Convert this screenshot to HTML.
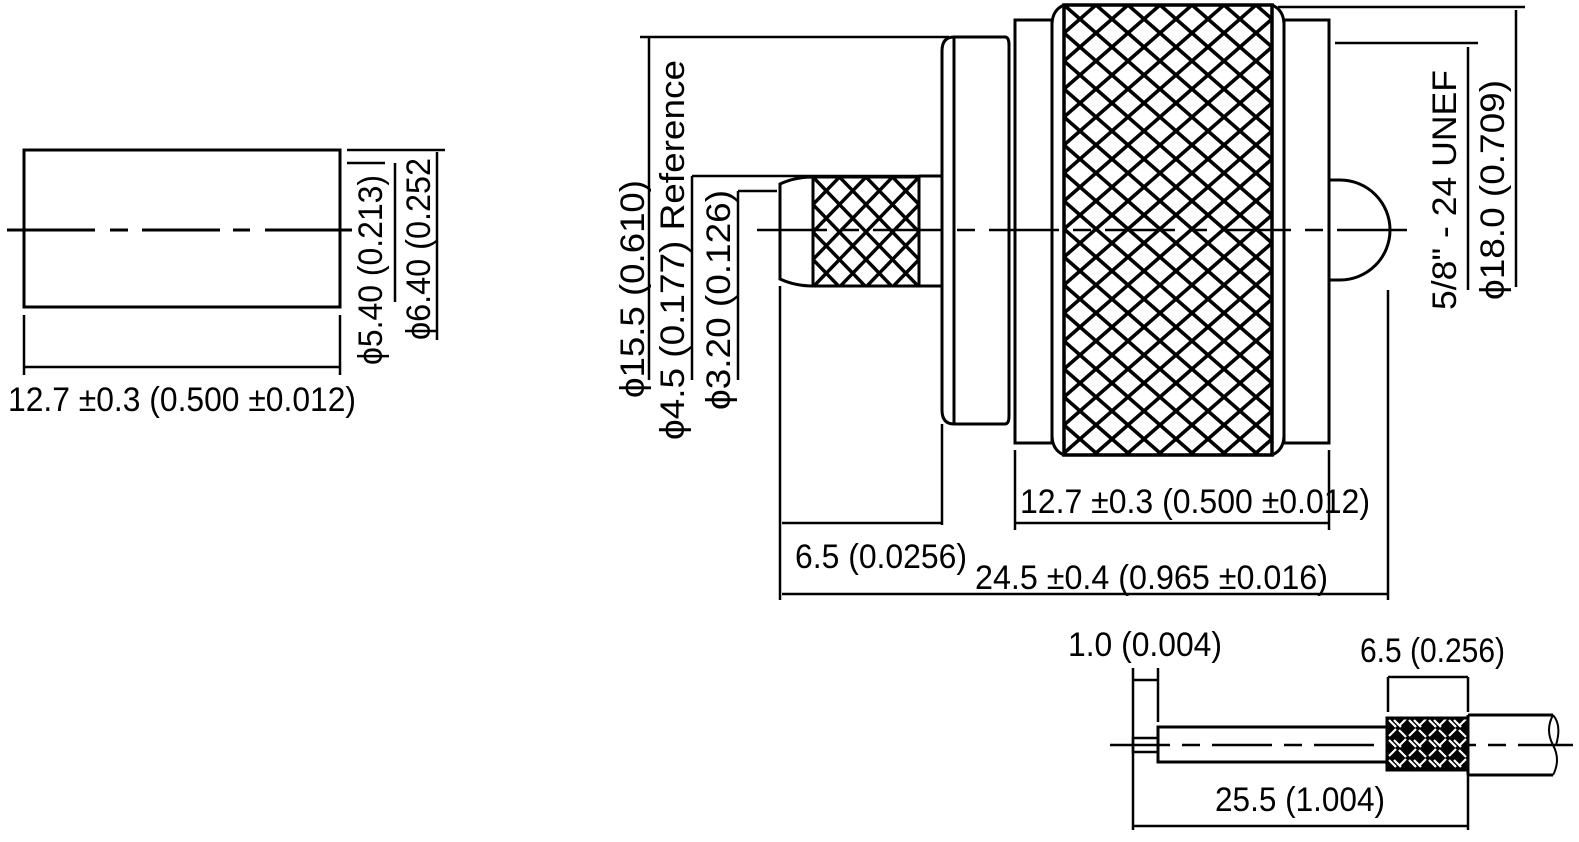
<!DOCTYPE html>
<html><head><meta charset="utf-8"><style>
html,body{margin:0;padding:0;background:#fff;}
svg{display:block;}
text{font-family:"Liberation Sans",sans-serif;font-size:34px;fill:#000;}
</style></head><body>
<svg width="1579" height="842" viewBox="0 0 1579 842" xmlns="http://www.w3.org/2000/svg">
<defs>
<pattern id="kn" width="32" height="28" patternUnits="userSpaceOnUse" x="1064" y="5">
<path d="M0 0 L32 28 M32 0 L0 28" stroke="#000" stroke-width="3.6"/>
</pattern>
<pattern id="ks" width="26.5" height="27.5" patternUnits="userSpaceOnUse" x="813" y="177">
<path d="M0 0 L26.5 27.5 M26.5 0 L0 27.5" stroke="#000" stroke-width="3.4"/>
</pattern>
<pattern id="br" width="20" height="20" patternUnits="userSpaceOnUse" x="1387" y="718">
<rect width="20" height="20" fill="#000"/>
<path d="M2 2 L9 9 M7 2 L14 9 M12 12 L19 19 M2 18 L9 11 M12 8 L19 1" stroke="#fff" stroke-width="2.2"/>
</pattern>
</defs>
<g fill="none" stroke="#000" stroke-width="3">
<rect x="24" y="150" width="316" height="157"/>
<path d="M7 230 H95 M110 230 H128 M142 230 H220 M233 230 H250 M265 230 H352" />
<path d="M347 150 H445 M437 152 V340 M347 163 H385 M395 163 V302" stroke-width="2.5"/>
<path d="M24 315 V375 M340 315 V375 M24 367 H340" stroke-width="2.5"/>

<path d="M780 184 Q795 177 813 177 V286 Q795 286 780 279 Z"/>
<rect x="813" y="177" width="106" height="109" fill="url(#ks)"/>
<path d="M919 176 H942 M919 286 H942"/>
<path d="M954 37 H1005 Q1009 37 1009 45 V416 Q1009 424 1005 424 H954 Q942 424 942 410 V51 Q942 37 954 37 Z"/>
<path d="M954 38 V423"/>
<rect x="1015" y="20" width="37" height="423"/>
<path d="M1064 5 Q1052 10 1052 25 V435 Q1052 450 1064 455"/>
<path d="M1272 5 Q1284 10 1284 25 V435 Q1284 450 1272 455"/>
<rect x="1064" y="5" width="208" height="450" fill="url(#kn)" stroke-width="3.5"/>
<rect x="1284" y="20" width="45" height="423"/>
<path d="M1329 180 H1340 A50 50 0 0 1 1340 280 H1329"/>
<path d="M757 230 H1408" stroke-dasharray="70 14 18 14" stroke-width="2.5"/>

<path d="M640 37 H949 M649 37 V380 M692 176 H942 M692 176 V380 M738 191 H777 M738 191 V380" stroke-width="2.5"/>
<path d="M1278 7 H1525 M1516 10 V287 M1335 43 H1478 M1468 47 V290" stroke-width="2.5"/>
<path d="M780 286 V600 M942 424 V525 M1015 450 V530 M1329 450 V530 M1388 290 V600 M782 523 H942 M1015 523 H1329 M782 594 H1388" stroke-width="2.5"/>

<path d="M1110 745 H1573" stroke-dasharray="60 12 18 12" stroke-width="2.5"/>
<rect x="1133" y="738" width="25" height="14" stroke-width="2.5"/>
<rect x="1158" y="727" width="229" height="35"/>
<rect x="1387" y="718" width="81" height="52" fill="url(#br)"/>
<path d="M1468 715 H1553 M1468 775 H1553 M1468 715 V775"/>
<path d="M1553 715 Q1545 730 1553 745 Q1561 760 1553 775 M1553 715 Q1562 725 1556 745" stroke-width="2"/>
<path d="M1133 668 V830 M1158 668 V722 M1133 680 H1158 M1388 677 V712 M1468 677 V712 M1388 677 H1468 M1133 826 H1468 M1468 775 V830" stroke-width="2.5"/>
</g>

<g>
<text x="8" y="411" textLength="348" lengthAdjust="spacingAndGlyphs">12.7 ±0.3 (0.500 ±0.012)</text>
<text transform="translate(382,365) rotate(-90)" textLength="190" lengthAdjust="spacingAndGlyphs">ϕ5.40 (0.213)</text>
<text transform="translate(430,340) rotate(-90)" textLength="182" lengthAdjust="spacingAndGlyphs">ϕ6.40 (0.252</text>

<text transform="translate(644,398) rotate(-90)" textLength="218" lengthAdjust="spacingAndGlyphs">ϕ15.5 (0.610)</text>
<text transform="translate(684,440) rotate(-90)" textLength="380" lengthAdjust="spacingAndGlyphs">ϕ4.5 (0.177) Reference</text>
<text transform="translate(730,410) rotate(-90)" textLength="220" lengthAdjust="spacingAndGlyphs">ϕ3.20 (0.126)</text>
<text transform="translate(1456,310) rotate(-90)" textLength="240" lengthAdjust="spacingAndGlyphs">5/8" - 24 UNEF</text>
<text transform="translate(1504,300) rotate(-90)" textLength="220" lengthAdjust="spacingAndGlyphs">ϕ18.0 (0.709)</text>

<text x="1020" y="513" textLength="350" lengthAdjust="spacingAndGlyphs">12.7 ±0.3 (0.500 ±0.012)</text>
<text x="795" y="568" textLength="172" lengthAdjust="spacingAndGlyphs">6.5 (0.0256)</text>
<text x="975" y="589" textLength="353" lengthAdjust="spacingAndGlyphs">24.5 ±0.4 (0.965 ±0.016)</text>

<text x="1068" y="656" textLength="154" lengthAdjust="spacingAndGlyphs">1.0 (0.004)</text>
<text x="1360" y="662" textLength="145" lengthAdjust="spacingAndGlyphs">6.5 (0.256)</text>
<text x="1215" y="811" textLength="170" lengthAdjust="spacingAndGlyphs">25.5 (1.004)</text>
</g>
</svg>
</body></html>
